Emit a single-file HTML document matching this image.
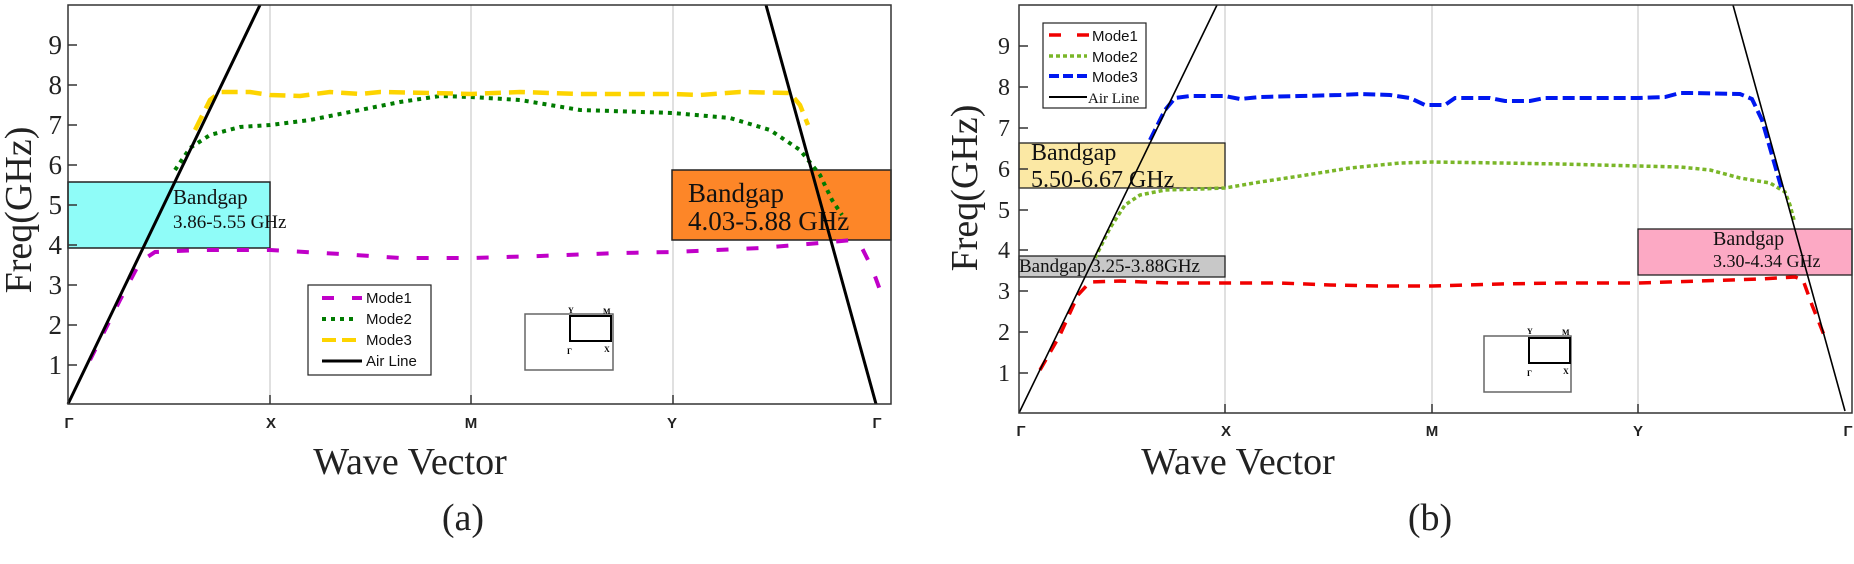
<!DOCTYPE html>
<html><head><meta charset="utf-8"><style>
html,body{margin:0;padding:0;background:#fff;width:1854px;height:564px;overflow:hidden}
svg{display:block}
.tk{font-family:"Liberation Serif",serif;font-size:27px;fill:#222}
.xt{font-family:"Liberation Sans",sans-serif;font-size:15px;font-weight:bold;fill:#222}
.lg{font-family:"Liberation Sans",sans-serif;font-size:15px;fill:#111}
.bg{font-family:"Liberation Serif","DejaVu Serif",serif;fill:#111}
.big{font-family:"Liberation Serif",serif;font-size:38px;fill:#222}
</style></head><body>
<svg width="1854" height="564" viewBox="0 0 1854 564" xmlns="http://www.w3.org/2000/svg">
<!-- ========== PLOT A ========== -->
<g>
<line x1="270" y1="5" x2="270" y2="404" stroke="#ccc" stroke-width="1.2"/>
<line x1="471" y1="5" x2="471" y2="404" stroke="#ccc" stroke-width="1.2"/>
<line x1="673" y1="5" x2="673" y2="404" stroke="#ccc" stroke-width="1.2"/>
<rect x="68" y="182" width="202" height="66" fill="#8ffcf8" stroke="#222" stroke-width="1.5"/>
<rect x="672" y="170" width="219" height="70" fill="#fd8628" stroke="#222" stroke-width="1.5"/>
<text class="bg" x="173" y="204" font-size="21">Bandgap</text>
<text class="bg" x="173" y="228" font-size="19">3.86-5.55 GHz</text>
<text class="bg" x="688" y="202" font-size="27">Bandgap</text>
<text class="bg" x="688" y="230" font-size="27">4.03-5.88 GHz</text>
<!-- mode1 -->
<polyline fill="none" stroke="#c000c8" stroke-width="4" stroke-dasharray="12,18" points="90,360 120,300 140,262 155,252 200,250 270,250 340,254 400,258 471,258 540,256 620,253 673,252 760,248 820,243 852,240 862,248 872,268 880,290"/>
<!-- mode2 -->
<polyline fill="none" stroke="#007b00" stroke-width="4" stroke-dasharray="4,5" points="175,170 190,148 210,135 240,127 270,125 310,120 360,110 400,102 440,96 471,97 520,100 580,110 673,113 730,118 770,130 800,150 820,175 832,200 842,215"/>
<!-- mode3 -->
<polyline fill="none" stroke="#fdd400" stroke-width="4.5" stroke-dasharray="16,8" points="195,130 210,100 220,92 250,92 270,95 300,96 330,92 360,94 380,92 430,93 471,94 520,92 580,94 673,94 700,95 740,92 790,93 800,105 808,125"/>
<!-- air lines -->
<line x1="68" y1="404" x2="260" y2="5" stroke="#000" stroke-width="3"/>
<line x1="766" y1="5" x2="876" y2="404" stroke="#000" stroke-width="3"/>
<!-- axes -->
<rect x="68" y="5" width="823" height="399" fill="none" stroke="#333" stroke-width="1.5"/>
<g stroke="#333" stroke-width="1.5">
<line x1="68" y1="45" x2="77" y2="45"/><line x1="68" y1="85" x2="77" y2="85"/><line x1="68" y1="125" x2="77" y2="125"/><line x1="68" y1="165" x2="77" y2="165"/><line x1="68" y1="205" x2="77" y2="205"/><line x1="68" y1="245" x2="77" y2="245"/><line x1="68" y1="285" x2="77" y2="285"/><line x1="68" y1="325" x2="77" y2="325"/><line x1="68" y1="365" x2="77" y2="365"/>
<line x1="270" y1="395" x2="270" y2="404"/><line x1="471" y1="395" x2="471" y2="404"/><line x1="673" y1="395" x2="673" y2="404"/>
</g>
<g class="tk" text-anchor="end">
<text x="62" y="54">9</text><text x="62" y="94">8</text><text x="62" y="134">7</text><text x="62" y="174">6</text><text x="62" y="214">5</text><text x="62" y="254">4</text><text x="62" y="294">3</text><text x="62" y="334">2</text><text x="62" y="374">1</text>
</g>
<text class="big" transform="translate(31,210) rotate(-90)" text-anchor="middle" font-size="40">Freq(GHz)</text>
<g class="xt" text-anchor="middle">
<text x="69" y="428">Γ</text><text x="271" y="428">X</text><text x="471" y="428">M</text><text x="672" y="428">Y</text><text x="877" y="428">Γ</text>
</g>
<text class="big" x="410" y="474" text-anchor="middle">Wave Vector</text>
<text class="big" x="463" y="530" text-anchor="middle" font-size="26">(a)</text>
<!-- legend -->
<rect x="308" y="285" width="123" height="90" fill="#fff" stroke="#222" stroke-width="1.2"/>
<line x1="322" y1="298" x2="362" y2="298" stroke="#c000c8" stroke-width="4" stroke-dasharray="12,18"/>
<line x1="322" y1="319" x2="358" y2="319" stroke="#007b00" stroke-width="4" stroke-dasharray="4,5"/>
<line x1="322" y1="340" x2="358" y2="340" stroke="#fdd400" stroke-width="4" stroke-dasharray="14,6"/>
<line x1="322" y1="361" x2="362" y2="361" stroke="#000" stroke-width="3"/>
<text class="lg" x="366" y="303">Mode1</text><text class="lg" x="366" y="324">Mode2</text><text class="lg" x="366" y="345">Mode3</text><text class="lg" x="366" y="366">Air Line</text>
<!-- inset -->
<rect x="525" y="314" width="88" height="56" fill="none" stroke="#666" stroke-width="1.5"/>
<rect x="570" y="316" width="41" height="25" fill="none" stroke="#000" stroke-width="2"/>
<text x="568" y="313" font-size="8" font-family="Liberation Serif,serif" font-weight="bold">Y</text>
<text x="603" y="314" font-size="8" font-family="Liberation Serif,serif" font-weight="bold">M</text>
<text x="567" y="354" font-size="8" font-family="Liberation Serif,serif" font-weight="bold">Γ</text>
<text x="604" y="352" font-size="8" font-family="Liberation Serif,serif" font-weight="bold">X</text>
</g>

<!-- ========== PLOT B ========== -->
<g>
<line x1="1225" y1="5" x2="1225" y2="413" stroke="#ccc" stroke-width="1.2"/>
<line x1="1432" y1="5" x2="1432" y2="413" stroke="#ccc" stroke-width="1.2"/>
<line x1="1638" y1="5" x2="1638" y2="413" stroke="#ccc" stroke-width="1.2"/>
<rect x="1019" y="143" width="206" height="45" fill="#fbe8a4" stroke="#222" stroke-width="1.3"/>
<rect x="1019" y="256" width="206" height="21" fill="#c8c8c8" stroke="#222" stroke-width="1.3"/>
<rect x="1638" y="229" width="214" height="46" fill="#fca9c4" stroke="#222" stroke-width="1.3"/>
<text class="bg" x="1031" y="160" font-size="24">Bandgap</text>
<text class="bg" x="1031" y="187" font-size="24">5.50-6.67 GHz</text>
<text class="bg" x="1019" y="272" font-size="19">Bandgap 3.25-3.88GHz</text>
<text class="bg" x="1713" y="245" font-size="20">Bandgap</text>
<text class="bg" x="1713" y="267" font-size="18">3.30-4.34 GHz</text>
<!-- mode1 -->
<polyline fill="none" stroke="#f00000" stroke-width="3.5" stroke-dasharray="12,9" points="1040,370 1060,335 1078,295 1090,282 1120,281 1170,283 1225,283 1280,283 1330,285 1380,286 1432,286 1500,284 1560,283 1638,283 1700,281 1760,279 1795,277 1803,280 1812,305 1826,340"/>
<!-- mode2 -->
<polyline fill="none" stroke="#7ab628" stroke-width="3.5" stroke-dasharray="4,3" points="1095,258 1110,228 1125,205 1140,195 1165,190 1200,189 1225,188 1260,182 1300,176 1350,168 1400,163 1432,162 1500,163 1560,164 1638,166 1680,167 1710,170 1740,178 1770,183 1785,192 1790,205 1794,220"/>
<!-- mode3 -->
<polyline fill="none" stroke="#0018f0" stroke-width="4" stroke-dasharray="12,5" points="1150,140 1165,110 1175,98 1190,96 1225,96 1240,99 1260,97 1300,96 1340,95 1360,94 1390,95 1410,98 1425,105 1445,105 1455,98 1490,98 1505,101 1530,101 1545,98 1600,98 1638,98 1665,97 1680,93 1690,93 1740,94 1752,99 1762,120 1772,155 1782,190"/>
<!-- air lines -->
<line x1="1019" y1="413" x2="1217" y2="5" stroke="#000" stroke-width="1.6"/>
<line x1="1733" y1="5" x2="1845" y2="411" stroke="#000" stroke-width="1.6"/>
<rect x="1019" y="5" width="833" height="408" fill="none" stroke="#333" stroke-width="1.5"/>
<g stroke="#333" stroke-width="1.5">
<line x1="1019" y1="46" x2="1028" y2="46"/><line x1="1019" y1="87" x2="1028" y2="87"/><line x1="1019" y1="128" x2="1028" y2="128"/><line x1="1019" y1="169" x2="1028" y2="169"/><line x1="1019" y1="210" x2="1028" y2="210"/><line x1="1019" y1="250" x2="1028" y2="250"/><line x1="1019" y1="291" x2="1028" y2="291"/><line x1="1019" y1="332" x2="1028" y2="332"/><line x1="1019" y1="373" x2="1028" y2="373"/>
<line x1="1225" y1="404" x2="1225" y2="413"/><line x1="1432" y1="404" x2="1432" y2="413"/><line x1="1638" y1="404" x2="1638" y2="413"/>
</g>
<g class="tk" text-anchor="end" style="font-size:24px">
<text x="1010" y="54">9</text><text x="1010" y="95">8</text><text x="1010" y="136">7</text><text x="1010" y="177">6</text><text x="1010" y="218">5</text><text x="1010" y="258">4</text><text x="1010" y="299">3</text><text x="1010" y="340">2</text><text x="1010" y="381">1</text>
</g>
<text class="big" transform="translate(977,188) rotate(-90)" text-anchor="middle" font-size="32">Freq(GHz)</text>
<g class="xt" text-anchor="middle">
<text x="1021" y="436">Γ</text><text x="1226" y="436">X</text><text x="1432" y="436">M</text><text x="1638" y="436">Y</text><text x="1848" y="436">Γ</text>
</g>
<text class="big" x="1238" y="474" text-anchor="middle">Wave Vector</text>
<text class="big" x="1430" y="530" text-anchor="middle" font-size="26">(b)</text>
<!-- legend -->
<rect x="1043" y="23" width="103" height="85" fill="#fff" stroke="#222" stroke-width="1.2"/>
<line x1="1049" y1="35" x2="1089" y2="35" stroke="#f00000" stroke-width="3.5" stroke-dasharray="12,16"/>
<line x1="1049" y1="56" x2="1087" y2="56" stroke="#7ab628" stroke-width="3.5" stroke-dasharray="4,3"/>
<line x1="1049" y1="76" x2="1088" y2="76" stroke="#0018f0" stroke-width="4" stroke-dasharray="10,4"/>
<line x1="1049" y1="97" x2="1087" y2="97" stroke="#000" stroke-width="2"/>
<text class="lg" x="1092" y="41">Mode1</text><text class="lg" x="1092" y="62">Mode2</text><text class="lg" x="1092" y="82">Mode3</text>
<text x="1088" y="103" font-family="Liberation Serif,serif" font-size="15" fill="#111">Air Line</text>
<!-- inset -->
<rect x="1484" y="336" width="87" height="56" fill="none" stroke="#666" stroke-width="1.5"/>
<rect x="1529" y="338" width="41" height="25" fill="none" stroke="#000" stroke-width="2"/>
<text x="1527" y="334" font-size="8" font-family="Liberation Serif,serif" font-weight="bold">Y</text>
<text x="1562" y="335" font-size="8" font-family="Liberation Serif,serif" font-weight="bold">M</text>
<text x="1527" y="376" font-size="8" font-family="Liberation Serif,serif" font-weight="bold">Γ</text>
<text x="1563" y="374" font-size="8" font-family="Liberation Serif,serif" font-weight="bold">X</text>
</g>
</svg>
</body></html>
